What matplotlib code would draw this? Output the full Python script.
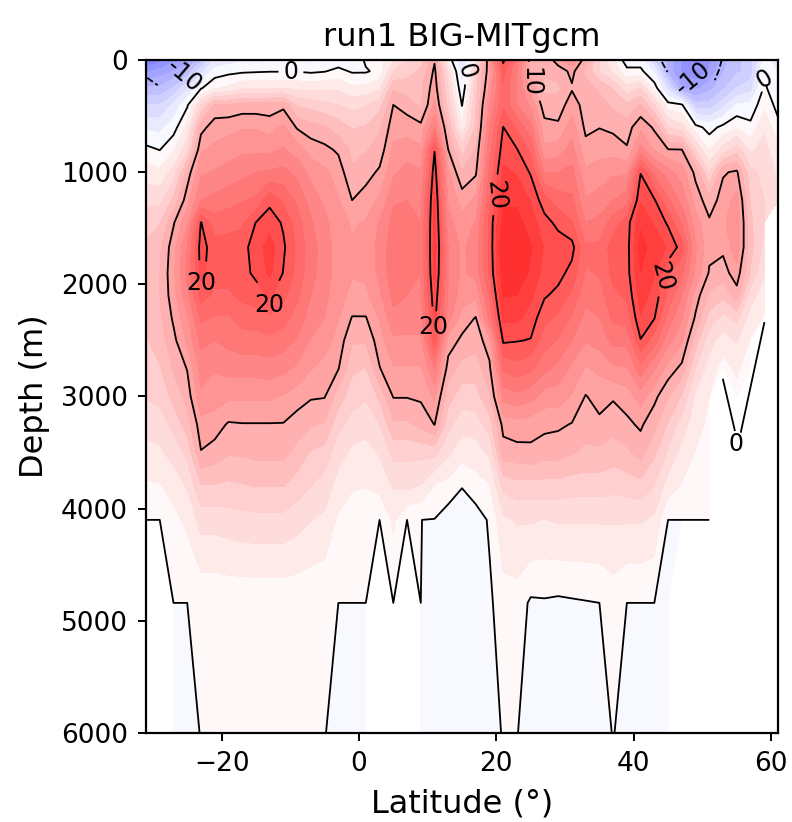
import numpy as np
import matplotlib
matplotlib.use("Agg")
import matplotlib.pyplot as plt

n = np.nan

lat = np.arange(-31, 63, 2)
depth = [0, 100, 250, 400, 600, 800, 1000, 1250, 1450, 1670, 1900, 2100, 2300, 2500, 2750, 3000, 3250, 3500,
         3800, 4100, 4840, 6130]

# one list per latitude, top to bottom
columns = [
    [-15, -12, -8, -5, -2, .5, 2.5, 4.5, 6, 7, 7, 7, 6.8, 6.5, 6, 5.1, 3.9, 2.8, 1.4, 0, n, n],  # -31
    [-14, -11, -8, -5, -2.2, -.05, 2, 4.5, 6.5, 8, 8.3, 8.3, 8, 7.5, 6.5, 5.5, 4.2, 3, 1.5, 0, n, n],  # -29
    [-12, -10, -6.5, -3, -.8, 1.5, 4, 7, 9.8, 11, 11.3, 11, 10.3, 9.5, 8.5, 7.2, 5.5, 4, 2.3, 1.2, 0, 0],  # -27
    [-11, -8, -3.5, -.3, 2.2, 4.5, 9, 11, 13, 15, 15.5, 14.5, 13, 12, 10.1, 9, 7.5, 5.5, 3.5, 2, 0, 0],  # -25
    [-7, -4, -.2, 5, 9.3, 11.5, 13, 15, 20.1, 20.8, 20.5, 19, 17, 15.5, 14, 13, 11, 9.9, 6.5, 4, .3, 0],  # -23
    [-3, -1, 1.5, 8.5, 11, 12, 13.5, 15.5, 17.5, 19, 19, 18, 16.5, 15, 13.5, 12.5, 10.8, 9.3, 6.5, 4, .3, .2],  # -21
    [-2.5, -.5, 2, 8.5, 11.2, 12.5, 14, 16, 17.8, 19, 19, 18, 16.5, 15.5, 14, 12, 9.8, 8.5, 6.3, 4.2, .4, .2],  # -19
    [-2, -.3, 3, 9, 11.5, 13, 14.5, 16.5, 18, 19.4, 19.4, 18.8, 17.3, 16, 14, 12, 9.9, 8.6, 6.5, 4.4, .4, .2],  # -17
    [-2, -.2, 3.2, 9, 11.5, 13, 15, 17, 20.05, 20.8, 20.4, 19.2, 17.5, 16, 14, 12, 9.9, 8.8, 6.7, 4.5, .4, .2],  # -15
    [-2, -.1, 3.2, 9, 11, 13, 15.2, 19.5, 21, 22.5, 22, 20.3, 18, 16.3, 14.2, 12, 9.9, 8.8, 6.7, 4.5, .4, .2],  # -13
    [-2, -.1, 3.2, 9.5, 12, 13.5, 15.5, 18, 19.75, 20.3, 19.9, 18.8, 17.3, 15.8, 13.8, 11.5, 9.9, 8.8, 6.7, 4.5, .4, .2],  # -11
    [-2, -.1, 3, 6.5, 9.8, 12.5, 14.5, 16.3, 17.5, 18, 17.8, 17, 16, 14.8, 13, 10.8, 9.2, 7.8, 5.8, 4, .4, .2],  # -9
    [-2, -.3, 2.8, 6, 9, 11, 12.8, 14.3, 15.2, 15.7, 15.6, 15, 14.3, 13.2, 11.8, 10.2, 8.5, 6.5, 5, 3.4, .3, .15],  # -7
    [-1.5, -.1, 3, 5.5, 8.5, 10.5, 12, 13, 13.8, 14.2, 14.2, 13.8, 13.3, 12.5, 11, 10.1, 8.2, 6, 4.2, 3, .2, 0],  # -5
    [-1, .5, 3, 5, 7.5, 9.7, 11, 11.8, 12.3, 12.5, 12.5, 12.3, 11.8, 11, 10.1, 7.5, 5.5, 4, 2.6, 1.4, 0, 0],  # -3
    [-1.5, -.2, 2, 4.5, 6.5, 8, 8.5, 10, 11.5, 11.8, 11.8, 11.2, 9.9, 8.6, 7, 5.8, 4.3, 3, 1.8, 1, 0, 0],  # -1
    [.3, -.2, 2.2, 4.8, 6.8, 8.2, 9.3, 10.8, 11.8, 12, 12, 11.3, 9.9, 8.5, 6.6, 5.2, 4, 2.7, 1.7, .9, 0, 0],  # 1
    [1, .5, 3, 6, 8, 9, 10.3, 12, 13.5, 14, 13.8, 13, 11.8, 11, 9.9, 7, 5, 3.5, 2.2, 0, n, n],  # 3
    [3, 5, 8, 10, 11, 12, 13, 14.8, 15.5, 16, 16, 15.5, 14.5, 13, 11.5, 10.1, 8, 5.5, 3.5, 2, 0, n],  # 5
    [5, 6, 7.5, 9.2, 11, 12.5, 14, 15, 15.5, 15.5, 15.3, 15, 14.2, 13, 11.5, 10.1, 8, 5.5, 3.7, 0, n, n],  # 7
    [6, 7, 8, 8, 10.5, 12, 13.5, 14.5, 15, 15, 15, 14.8, 14.2, 13, 11.5, 10.3, 8.8, 5.5, 3.2, .005, 0, 0],  # 9
    [9.8, 10.4, 11, 12, 15, 19.9, 21, 22, 22.3, 22.5, 22.2, 21.3, 20.6, 19.4, 15, 12, 10.05, 5.6, 1.5, -.05, -.5, -1],  # 11
    [1, 4, 5, 6, 8, 10, 12, 13, 14, 15, 15, 14.8, 14, 11, 9.2, 7.3, 5.5, 3.7, 1, -.875, -1, -1],  # 13
    [-3, -3, -1.5, -.1, 2, 6, 8.5, 11, 12.3, 13, 13, 12.5, 11, 9.6, 7.7, 5.8, 4, 2.3, .1, -1.6, -1, -1],  # 15
    [1, 6, 6, 6.5, 7, 8.5, 9.7, 12, 13.5, 14.2, 14, 12, 9.9, 9, 7.5, 6, 4.2, 2.5, 1, -.875, -1, -1],  # 17
    [12, 11, 12, 13.5, 15, 16, 17, 18, 18.8, 18.7, 18.5, 17, 15.5, 11, 9.6, 8, 5.8, 3.7, 1.5, .22, -.3, -.6],  # 19
    [20.4, 19, 18, 18, 20.05, 21, 22, 23, 24, 25, 24.5, 23.5, 22, 20.3, 17, 14, 10.6, 9.2, 5.5, 3, .9, .06],  # 21
    [16, 15, 15, 15, 18, 20.1, 21.5, 23, 24, 25, 24.5, 23.3, 22, 20.1, 17.7, 14.5, 11, 9.4, 6, 3.5, .9, -.002],  # 23
    [9, 9.5, 11, 13, 15.5, 18, 19.8, 21.5, 22.5, 23.5, 23, 22, 21, 19.9, 17, 14, 10.7, 9.6, 6, 3.5, -.26, -1],  # 25
    [8.5, 8.5, 8, 9, 10.7, 12, 15, 19, 20.7, 21.5, 21, 20.2, 18.8, 17.5, 15.5, 12.5, 10.5, 9, 6, 3.3, -.19, -1],  # 27
    [11, 9, 8, 9, 10.4, 12.5, 15, 17.5, 19.5, 21, 20.6, 19.5, 18, 16.5, 14.5, 12.5, 10.3, 9, 6, 3.5, -.31, -1],  # 29
    [13, 10.5, 9.8, 11, 12.5, 14, 15.5, 17, 18.5, 20.6, 19.4, 18, 16.5, 15, 13, 11.5, 9.9, 8.5, 5.7, 3.5, -.2, -1],  # 31
    [9, 8, 9, 9.2, 9.6, 10.6, 12, 13.5, 15, 17, 16.5, 15.5, 14.5, 13.5, 11.5, 9.9, 9, 8, 5.7, 3.5, -.1, -1],  # 33
    [5, 5, 8, 9, 9.95, 11, 12.5, 14, 15.5, 17, 16.8, 16, 15, 14, 12, 10.7, 9.6, 8, 5.7, 3.5, -.001, -1],  # 35
    [2, 3, 6.5, 8, 9.6, 11, 13, 15, 17.5, 19.2, 18.8, 18, 17, 15.5, 13, 10.2, 9, 7.5, 5.5, 3.5, .7, 0],  # 37
    [-1, .5, 4, 7, 9.2, 10.2, 13, 16, 19.2, 19.3, 19.3, 18.6, 17.5, 15.5, 13.2, 10.8, 9.6, 8, 5.7, 3.5, 0, 0],  # 39
    [-1, .5, 5, 8.5, 11.3, 14, 19.9, 21.5, 23, 24, 23.3, 22.5, 21.5, 19.9, 16, 12.5, 10.3, 9, 6, 3.5, 0, 0],  # 41
    [-5, -2, 1, 5, 9.7, 11.5, 16, 20.2, 21.5, 22.5, 21.8, 21, 20.1, 17.5, 13.5, 10.5, 8.8, 7, 5, 3, 0, 0],  # 43
    [-9, -9, -4, .7, 5, 10.1, 14, 17, 19.7, 21.5, 18.5, 18, 16, 14, 11, 8.5, 6.5, 4.7, 2.5, 0, 0, 0],  # 45
    [-12, -12, -10, .3, 4, 10.05, 12.5, 14.5, 16.5, 19.2, 17, 15, 13.5, 12, 9.5, 6.5, 4.2, 2.8, 1.5, 0, n, n],  # 47
    [-14, -13, -10.5, -6, .7, 5, 9.5, 11, 12.5, 13.5, 13, 10.9, 9.7, 7.5, 5, 3, 2.4, 1.6, .9, 0, n, n],  # 49
    [-12, -11.5, -9, -6, -.7, 1.5, 5, 9, 10.3, 10.5, 9.8, 8, 6, 4, 2.5, 1.7, 1.2, .8, .4, 0, n, n],  # 51
    [-9, -8.5, -7, -4, .5, 4, 9.8, 10.8, 11.3, 10.4, 9.2, 7, 4.5, 2.5, 1, n, n, n, n, n, n, n],  # 53
    [-7, -7, -5, -1.5, 1.5, 6, 10.3, 12.3, 13, 12.8, 11, 9.2, 5.5, 3.5, 2, 1, .5, .3, n, n, n, n],  # 55
    [-6, -6, -4, -1.2, .5, 3, 5.5, 6.5, 7, 7.2, 6.5, 4, 2.5, 1.5, .5, n, n, n, n, n, n, n],  # 57
    [-.5, -.1, .3, 1.2, 3, 4, 4.5, 5, 5, 4.5, 3.5, 2.5, 1.5, n, n, n, n, n, n, n, n, n],  # 59
    [-3, -2, -1.2, -.6, .5, 2, 3, 3.5, n, n, n, n, n, n, n, n, n, n, n, n, n, n],  # 61
]

# short 0 line arms near 55N
arm_left_lat = [53, 54.7]
arm_left_depth = [2850, 3300]
arm_right_lat = [59, 55.6]
arm_right_depth = [2345, 3315]

# -10 line pieces, the labels eat most of them
neg_pieces = [
    ([-30.8, -29.3], [160, 225]),
    ([44.1, 44.9], [18, 107]),
    ([52.8, 52.4, 51.8], [0, 90, 180]),
]

fill_levels = np.linspace(-30, 30, 37)
line_levels = [0, 10, 20]
label_spots = [(-9.9, 90), (15, 100), (25, 200), (59, 170),
               (-23, 1990), (-13, 2185), (10.8, 2380), (19.5, 1200), (44.3, 1930)]

z = np.array(columns).T

fig = plt.figure(figsize=(3.96, 4.11), dpi=200)
ax = fig.add_axes([146 / 792, 1 - 733 / 822, 632 / 792, 673 / 822])

ax.contourf(lat, depth, z, levels=fill_levels, cmap='bwr', vmin=-30, vmax=30)
cs = ax.contour(lat, depth, z, levels=line_levels, colors='k', linewidths=0.65)
labels = ax.clabel(cs, manual=label_spots, fmt='%d', fontsize=8.5, inline=True)

# the labels at the ends of the narrow lines sit flat
for t, pos, rot in zip(cs.labelTexts, label_spots, [None, None, -90, 30, 0, 0, 0, None, None]):
    if rot is not None:
        t.set_rotation(rot)
        t.set_position(pos)

for piece_lat, piece_depth in neg_pieces:
    ax.plot(piece_lat, piece_depth, color='k', lw=0.65, ls='--')
ax.text(-25.4, 143, '-10', fontsize=8.5, ha='center', va='center', rotation=-40)
ax.text(48.7, 160, '-10', fontsize=8.5, ha='center', va='center', rotation=40)

ax.plot(arm_left_lat, arm_left_depth, color='k', lw=0.65)
ax.plot(arm_right_lat, arm_right_depth, color='k', lw=0.65)
ax.text(54.9, 3420, '0', fontsize=8.5, ha='center', va='center')

ax.set_xlim(-31, 61)
ax.set_ylim(6000, 0)
ax.set_xticks([-20, 0, 20, 40, 60])
ax.set_yticks([0, 1000, 2000, 3000, 4000, 5000, 6000])
ax.tick_params(labelsize=9.5, width=0.7, length=3)
ax.set_xlabel('Latitude (°)', fontsize=11.5, labelpad=4)
ax.set_ylabel('Depth (m)', fontsize=11.5, labelpad=4)
ax.set_title('run1 BIG-MITgcm', fontsize=11.5, pad=5)

fig.savefig('out.png', dpi=200)
